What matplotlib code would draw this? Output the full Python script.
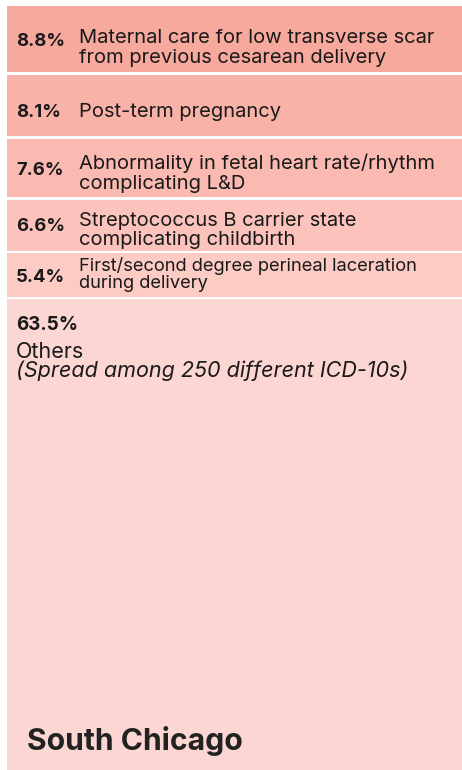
import matplotlib
matplotlib.use("Agg")
import matplotlib.pyplot as plt
import numpy as np

plt.rcParams['font.family'] = ['Inter', 'DejaVu Sans']

## data
shares = [8.8, 8.1, 7.6, 6.6, 5.4, 63.5]
pct_labels = ["8.8%", "8.1%", "7.6%", "6.6%", "5.4%", "63.5%"]
diagnoses = [
    "Maternal care for low transverse scar\nfrom previous cesarean delivery",
    "Post-term pregnancy",
    "Abnormality in fetal heart rate/rhythm\ncomplicating L&D",
    "Streptococcus B carrier state\ncomplicating childbirth",
    "First/second degree perineal laceration\nduring delivery",
    "Others",
]
others_note = "(Spread among 250 different ICD-10s)"
region = "South Chicago"

colors = ["#f8a99e", "#f9b2a8", "#fabab1", "#fbc3bb", "#fbcbc4", "#fcd6d2"]
txt = "#1a1a1a"

W, H = 462, 770
fig = plt.figure(figsize=(W / 100, H / 100), dpi=100)
fig.patch.set_facecolor("white")
# axes in pixel units so layout can be tuned against the reference
ax = fig.add_axes([0, 0, 1, 1])
ax.set_xlim(0, W)
ax.set_ylim(H, 0)
ax.axis("off")

## layout: each row gets px per percent plus a fixed padding (like flexbox)
TOP, LEFT = 6, 7
PX_PER_PCT, PAD, GAP = 6.8, 9.0, 2.5
sizes = np.array(shares) * PX_PER_PCT + PAD
tops = TOP + np.concatenate([[0], np.cumsum(sizes)[:-1]])
heights = sizes - GAP
heights[-1] = H - tops[-1] + 5  # last block fills to the bottom
ax.bar(np.full(len(shares), (LEFT + W) / 2), heights, width=W - LEFT,
       bottom=tops, color=colors, linewidth=0)

# baseline offsets from row middle (pct, first label line), label size, line step
pct_off = [7.2, 11.0, 7.3, 5.8, 7.3]
lab_off = [3.8, 11.0, 1.0, 0.5, -4.3]
lab_fs = [14.5, 14.5, 14.5, 14.5, 13.2]
lab_step = [20.0, 20.0, 20.0, 19.3, 17.6]

for i in range(5):
    mid = tops[i] + heights[i] / 2
    ax.text(16, mid + pct_off[i], pct_labels[i], fontsize=13.3,
            fontweight="bold", color=txt, va="baseline", ha="left")
    for k, line in enumerate(diagnoses[i].split("\n")):
        ax.text(79, mid + lab_off[i] + k * lab_step[i], line,
                fontsize=lab_fs[i], color=txt, va="baseline", ha="left")

## "Others" block, text stacked from its top
top = tops[5]
ax.text(16, top + 31, pct_labels[5], fontsize=13.6, fontweight="bold",
        color=txt, va="baseline", ha="left")
ax.text(16, top + 59, diagnoses[5], fontsize=15.5, color=txt,
        va="baseline", ha="left")
ax.text(16, top + 78, others_note, fontsize=15.5, color=txt,
        style="italic", va="baseline", ha="left")

ax.text(27, 750, region, fontsize=21.7, fontweight="bold", color="#222222",
        va="baseline", ha="left")

fig.savefig("out.png", dpi=100, facecolor="white")
